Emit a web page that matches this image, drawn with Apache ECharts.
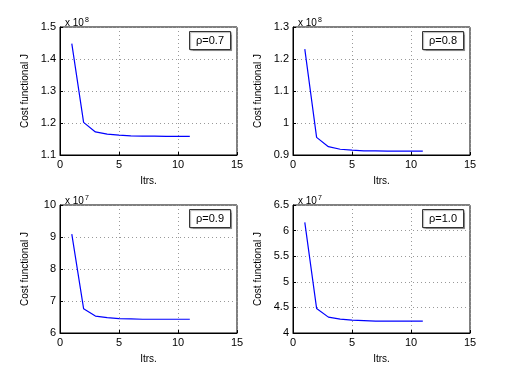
<!DOCTYPE html>
<html><head><meta charset="utf-8">
<script src="https://cdn.jsdelivr.net/npm/echarts@6/dist/echarts.min.js"></script>
<style>html,body{margin:0;padding:0;background:#fff}#c{width:508px;height:372px}</style>
</head><body><div id="c"></div>
<script>
const iters = [1,2,3,4,5,6,7,8,9,10,11];
const J07 = [1.448,1.202,1.172,1.165,1.162,1.160,1.159,1.159,1.158,1.158,1.158];
const J08 = [1.231,0.955,0.926,0.918,0.915,0.913,0.913,0.912,0.912,0.912,0.912];
const J09 = [9.09,6.76,6.53,6.48,6.45,6.44,6.43,6.43,6.43,6.43,6.43];
const J10 = [6.16,4.48,4.31,4.27,4.25,4.24,4.23,4.23,4.23,4.23,4.23];
const panelLabels = ['ρ=0.7','ρ=0.8','ρ=0.9','ρ=1.0'];
const exponents = ['8','8','7','7'];
const yRanges = [[1.1,1.5,0.1],[0.9,1.3,0.1],[6,10,1],[4,6.5,0.5]];
const xTicks = [0,15,5];
const series = [J07,J08,J09,J10];

const grids = [
  {left:60, top:27, width:177, height:128},
  {left:293, top:27, width:177, height:128},
  {left:60, top:205, width:177, height:128},
  {left:293, top:205, width:177, height:128}
];
const font = 'Liberation Sans, Arial, sans-serif';
const chart = echarts.init(document.getElementById('c'));
const opt = {
  animation:false,
  backgroundColor:'#fff',
  grid: grids.map(g=>Object.assign({show:true, borderColor:'#000', borderWidth:1, backgroundColor:'transparent'}, g)),
  xAxis: grids.map((g,i)=>({
    type:'value', gridIndex:i, min:xTicks[0], max:xTicks[1], interval:xTicks[2],
    name:'Itrs.', nameLocation:'middle', nameGap:21,
    nameTextStyle:{fontFamily:font, fontSize:10, color:'#000'},
    axisLine:{show:true, lineStyle:{color:'#000'}},
    axisTick:{show:true, inside:true, length:3, lineStyle:{color:'#000'}},
    axisLabel:{fontFamily:font, fontSize:11, color:'#000', margin:4},
    splitLine:{show:true, lineStyle:{color:'#999', type:[1,3], width:1}}
  })),
  yAxis: grids.map((g,i)=>({
    type:'value', gridIndex:i, min:yRanges[i][0], max:yRanges[i][1], interval:yRanges[i][2],
    name:'Cost functional J', nameLocation:'middle', nameGap:30,
    nameTextStyle:{fontFamily:font, fontSize:10, color:'#000'},
    axisLine:{show:true, lineStyle:{color:'#000'}},
    axisTick:{show:true, inside:true, length:3, lineStyle:{color:'#000'}},
    axisLabel:{fontFamily:font, fontSize:11, color:'#000', margin:4},
    splitLine:{show:true, lineStyle:{color:'#999', type:[1,3], width:1}}
  })),
  title: grids.map((g,i)=>({
    text:panelLabels[i], right:508-(g.left+g.width)+6, top:g.top+4,
    borderColor:'#333', borderWidth:1, padding:[4,7,4,7],
    shadowColor:'rgba(0,0,0,0.3)', shadowOffsetX:1, shadowOffsetY:1, shadowBlur:1,
    backgroundColor:'#fff',
    textStyle:{fontFamily:font, fontSize:11, fontWeight:'normal', color:'#000'}
  })).concat(grids.map((g,i)=>({
    text:'{a|x 10}{b|'+exponents[i]+'}', left:g.left, top:g.top-15,
    textStyle:{fontWeight:'normal', rich:{a:{fontFamily:font, fontSize:10, fontWeight:'normal', color:'#000'}, b:{fontFamily:font, fontSize:7, fontWeight:'normal', color:'#000', verticalAlign:'top', padding:[0,0,6,1]}}}
  }))),
  series: series.map((s,i)=>({
    type:'line', xAxisIndex:i, yAxisIndex:i, showSymbol:false,
    lineStyle:{color:'#0000ff', width:1.2},
    data: iters.map((x,k)=>[x, s[k]])
  }))
};
chart.setOption(opt);
</script></body></html>
